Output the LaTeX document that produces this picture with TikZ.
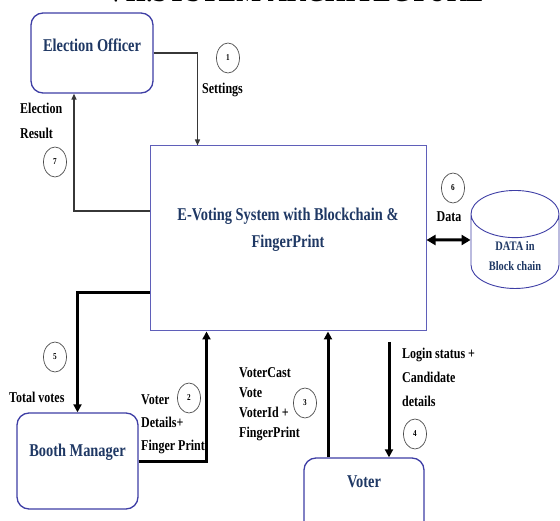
\documentclass[tikz,border=0pt]{standalone}
\usepackage{fontspec}
\setmainfont{Liberation Serif}[FakeStretch=0.8]
\usetikzlibrary{arrows.meta,shapes.geometric}

\definecolor{boxblue}{RGB}{62,62,165}
\definecolor{sysblue}{RGB}{95,95,185}
\definecolor{textnavy}{RGB}{31,56,100}
\definecolor{linegray}{RGB}{55,55,55}

\tikzset{
    actor/.style={draw=boxblue, line width=1.3pt, rounded corners=12pt, inner sep=0pt},
    actortext/.style={text=textnavy, font=\fontsize{18}{27}\selectfont\bfseries, align=center, inner sep=0pt},
    flowtext/.style={font=\fontsize{15}{#1}\selectfont\bfseries, align=left, inner sep=0pt, anchor=west},
    flowtext/.default=21,
    num/.style={draw=black!70, line width=0.7pt, ellipse, minimum width=23pt, minimum height=30pt, inner sep=0pt, font=\fontsize{9}{9}\selectfont\bfseries},
    thinarrow/.style={draw=linegray, line width=1.3pt, -{Triangle[length=6pt,width=5pt]}},
    thickarrow/.style={draw=black, line width=3pt, -{Triangle[length=8pt,width=8pt]}},
    botharrow/.style={draw=black, line width=3pt, {Triangle[length=9pt,width=10pt]}-{Triangle[length=9pt,width=10pt]}}
}

\begin{document}
\begin{tikzpicture}[x=1pt, y=-1pt]
    \useasboundingbox (0,0) rectangle (560,521);
    \clip (0,0) rectangle (560,521);

    % Title, cut at the top
    \node[font=\fontsize{33}{33}\selectfont\bfseries, anchor=base] (title) at (295,2) {VII.SYSTEM ARCHITECTURE};

    % Draw the actors
    \node[actor, minimum width=122, minimum height=80] (officer) at (92,53) {};
    \node[actortext] (officertext) at (92,45) {Election Officer};
    \node[actor, minimum width=121, minimum height=96] (booth) at (77.5,461) {};
    \node[actortext] (boothtext) at (77.5,452) {Booth Manager};
    \node[actor, minimum width=120, minimum height=80] (voter) at (364,498) {};
    \node[actortext] (votertext) at (364,482) {Voter};

    % Draw the system box
    \node[draw=sysblue, line width=1pt, minimum width=276, minimum height=185, inner sep=0pt] (system) at (288,238.5) {};
    \node[actortext] (systemtext) at (288,230) {E-Voting System with Blockchain \&\\FingerPrint};

    % Draw the block chain store
    \node[cylinder, shape border rotate=90, draw=boxblue, line width=0.9pt, minimum width=88, minimum height=94,
          aspect=0.8, align=center, text=textnavy, font=\fontsize{13}{20}\selectfont\bfseries] (chain) at (515,256) {DATA in\\Block chain};

    % Connectors
    \draw[thinarrow] (officer.east) -| ([xshift=48]system.north west);
    \draw[thinarrow] ([yshift=27.5]system.west) -| ([xshift=-18]officer.south);
    \draw[thickarrow] ([yshift=-54.5]system.west) -| (booth.north);
    \draw[thickarrow] (booth.east) -| ([xshift=57]system.south west);
    \draw[thickarrow] ([xshift=-36]voter.north) -- ([xshift=-36]voter.north |- system.south);
    \coordinate (loginstart) at (389,342);
    \draw[thickarrow] (loginstart) -- (loginstart |- voter.north);
    \draw[botharrow] ([yshift=-1.5]system.east) -- ([yshift=16]chain.west);

    % Step numbers
    \node[num] (num1) at (228,58) {1};
    \node[num] (num2) at (189,398) {2};
    \node[num] (num3) at (305,403) {3};
    \node[num] (num4) at (415,434) {4};
    \node[num] (num5) at (55,357) {5};
    \node[num] (num6) at (453,188) {6};
    \node[num] (num7) at (55,162) {7};

    % Labels for the flows
    \node[flowtext] (settings) at (202,90) {Settings};
    \node[flowtext=25] (result) at (20,120.5) {Election\\Result};
    \node[flowtext] (total) at (9,397) {Total votes};
    \node[flowtext=23] (details) at (141,424) {Voter\\Details+\\Finger Print};
    \node[flowtext=20] (cast) at (239,404) {VoterCast\\Vote\\VoterId +\\FingerPrint};
    \node[flowtext=24] (login) at (402,377) {Login status +\\Candidate\\details};
    \node[flowtext, anchor=center] (data) at (449,217) {Data};
\end{tikzpicture}
\end{document}
